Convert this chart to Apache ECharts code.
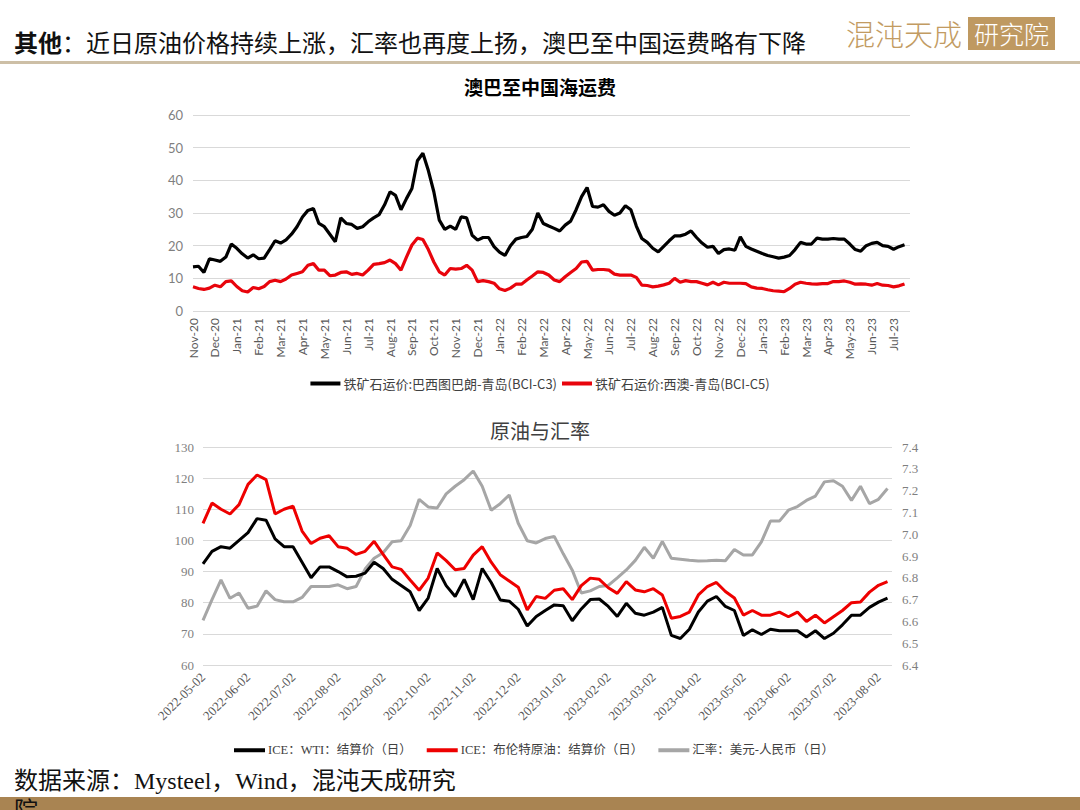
<!DOCTYPE html>
<html>
<head>
<meta charset="utf-8">
<script src="https://cdn.jsdelivr.net/npm/echarts@6/dist/echarts.min.js"></script>
<style>
  html, body { margin:0; padding:0; background:#fff; }
  #wrap { position:relative; width:1080px; height:810px; overflow:hidden; background:#fff; }
  #chart { position:absolute; left:0; top:0; width:1080px; height:810px; }
  #hdr { position:absolute; left:14px; top:29px; font-family:"Noto Sans CJK SC", sans-serif; font-size:24px; line-height:26px; color:#111; white-space:nowrap; z-index:3; }
  #hdr b { font-weight:700; }
  #hline { position:absolute; left:0; top:61px; width:1080px; height:3px; background:#cdbfa6; z-index:2; }
  #logo1 { position:absolute; left:846px; top:15px; font-family:"Noto Sans CJK SC", sans-serif; font-weight:300; font-size:29px; line-height:36px; color:#c29b62; letter-spacing:0px; z-index:3; }
  #logo2 { position:absolute; left:968px; top:17px; width:87px; height:33px; background:#bf9961; color:#fff; font-family:"Noto Sans CJK SC", sans-serif; font-weight:300; font-size:25px; line-height:33px; text-align:center; z-index:3; }
  #foot { position:absolute; left:14px; top:766px; width:460px; font-family:"Liberation Serif","Noto Sans CJK SC", serif; font-size:24px; line-height:30px; color:#111; z-index:3; }
  #bar { position:absolute; left:0; top:797px; width:1080px; height:13px; background:#a98452; z-index:2; }
</style>
</head>
<body>
<div id="wrap">
  <div id="chart"></div>
  <div id="hdr"><b>其他</b>：近日原油价格持续上涨，汇率也再度上扬，澳巴至中国运费略有下降</div>
  <div id="hline"></div>
  <div id="logo1">混沌天成</div>
  <div id="logo2">研究院</div>
  <div id="bar"></div>
  <div id="foot">数据来源：Mysteel，Wind，混沌天成研究院</div>
</div>
<script>
// ---------- Chart 1: 澳巴至中国海运费 (weekly readings, 4 per month from Nov-20) ----------
const freightMonths = ['Nov-20','Dec-20','Jan-21','Feb-21','Mar-21','Apr-21','May-21','Jun-21','Jul-21','Aug-21','Sep-21','Oct-21','Nov-21','Dec-21','Jan-22','Feb-22','Mar-22','Apr-22','May-22','Jun-22','Jul-22','Aug-22','Sep-22','Oct-22','Nov-22','Dec-22','Jan-23','Feb-23','Mar-23','Apr-23','May-23','Jun-23','Jul-23'];
const freightStep = 0.25; // months between readings
const freightNames = ['铁矿石运价:巴西图巴朗-青岛(BCI-C3)', '铁矿石运价:西澳-青岛(BCI-C5)'];
const bciC3 = [13.5,13.7,11.8,16,15.6,15.2,16.5,20.5,19.2,17.5,
16.2,17.2,16.0,16.2,18.8,21.5,20.8,21.8,23.5,25.8,
28.8,30.8,31.4,26.8,25.8,23.5,21.2,28.5,26.8,26.5,
25.3,25.8,27.3,28.5,29.5,32.5,36.5,35.4,31,34.4,
37.5,46,48.3,43,36.5,27.8,25,26,25,28.8,
28.5,23.2,21.7,22.5,22.5,19.7,18,17,20,22,
22.5,22.8,25,30,26.8,26,25.3,24.5,26.3,27.5,
31,35,37.8,32,31.8,32.5,30.5,29.3,30,32.2,
31,26,22.2,21,19.2,18.1,19.8,21.5,23,23,
23.5,24.5,22.5,20.8,19.5,19.8,17.6,18.8,19,18.6,
22.7,19.8,19,18.3,17.6,17,16.6,16.2,16.5,17,
18.8,21,20.5,20.5,22.3,22,22,22.2,22,22,
20.5,18.8,18.3,20,20.7,21,20,19.8,18.9,19.7,
20.3];
const bciC5 = [7.4,6.9,6.6,7.0,7.9,7.4,9.0,9.2,7.5,6.2,
5.8,7.2,6.8,7.5,9,9.4,9,9.8,11,11.5,
12,14,14.5,12.5,12.5,10.8,11,11.8,12,11.2,
11.5,11,12.5,14.3,14.5,14.8,15.6,14.5,12.5,16.5,
20.2,22.3,21.9,18.8,15,12,11,13,12.8,13,
14,12.5,9,9.3,9,8.5,6.8,6.3,7,8.2,
8.2,9.5,10.7,12,11.8,11,9.5,9,10.5,11.8,
13,15,15.2,12.5,12.7,12.7,12.5,11.3,11,11,
11,10.3,7.9,7.8,7.4,7.6,8,8.5,10,8.8,
9.3,9,9,8.5,8,8.8,8,8.8,8.5,8.5,
8.5,8.4,7.4,7,6.9,6.5,6.2,6.1,5.9,6.9,
8.2,8.8,8.5,8.3,8.2,8.4,8.4,9,9,9.2,
8.8,8.2,8.3,8.2,7.9,8.4,7.9,7.8,7.4,7.7,
8.3];

// ---------- Chart 2: 原油与汇率 (readings every 0.2 month from 2022-05-02) ----------
const oilMonths = ['2022-05-02','2022-06-02','2022-07-02','2022-08-02','2022-09-02','2022-10-02','2022-11-02','2022-12-02','2023-01-02','2023-02-02','2023-03-02','2023-04-02','2023-05-02','2023-06-02','2023-07-02','2023-08-02'];
const oilStep = 0.2;
const oilNames = ['ICE：WTI：结算价（日）', 'ICE：布伦特原油：结算价（日）', '汇率：美元-人民币（日）'];
const wti = [92.5,96.5,98,97.5,100,102.5,107,106.5,100.5,98,
98,93,88,91.5,91.5,90,88.3,88.5,89.5,93,
91,87.5,85.5,83.5,77.5,81.5,91,85.5,82,87.5,
81,91,86.5,80.9,80.5,77.9,72.5,75.6,77.5,79.3,
79,74.2,78,81,81.2,78.8,75.6,79.8,76.6,76,
77,78.5,69.5,68.5,71.5,77,80.5,82,78.8,77.5,
69.5,71.3,69.8,71.5,71,71,71,69,71,68.5,
70.2,72.9,76,76,78.5,80.2,81.5];
const brent = [105.5,112,110,108.5,111.5,118,121,119.5,108.5,110,
111,103,99,100.7,101.5,98,97.5,95.5,96.5,99.7,
95.5,91.5,90.7,87.3,84,87.9,96,93.5,90.6,91,
95.3,98,93,89,87,85,77.7,82,81.4,84,
84.5,81,85.5,87.9,87.5,84.8,83,86.8,84.1,83.5,
84.5,82.5,75,75.6,77,82.5,85.2,86.5,83.6,81.5,
76,77.5,76,76,77,75.5,77,74,76,73.5,
75.5,77.5,80,80.2,83.4,85.6,86.8];
const usdcny = [6.605,6.70,6.79,6.706,6.73,6.66,6.67,6.74,6.70,6.69,
6.69,6.71,6.76,6.76,6.76,6.768,6.75,6.76,6.84,6.89,
6.915,6.965,6.97,7.04,7.16,7.125,7.12,7.185,7.22,7.25,
7.29,7.22,7.11,7.14,7.18,7.05,6.97,6.96,6.98,6.99,
6.91,6.835,6.73,6.74,6.76,6.765,6.80,6.836,6.88,6.94,
6.89,6.967,6.89,6.885,6.88,6.877,6.878,6.88,6.878,6.93,
6.905,6.905,6.965,7.06,7.06,7.11,7.127,7.155,7.175,7.24,
7.245,7.22,7.155,7.22,7.14,7.16,7.21];

function pairs(arr, step) { return arr.map((v, i) => [i * step, v]); }

const chart = echarts.init(document.getElementById('chart'), null, { renderer: 'svg', width: 1080, height: 810 });
const sansLatin = 'Lato, "Noto Sans CJK SC", sans-serif';
const serifLatin = '"Liberation Serif", "Noto Sans CJK SC", serif';

chart.setOption({
  animation: false,
  backgroundColor: 'transparent',
  title: [
    { text: '澳巴至中国海运费', left: 'center', top: 72,
      textStyle: { fontFamily: '"Noto Sans CJK SC", sans-serif', fontSize: 19, fontWeight: 'bold', color: '#000' } },
    { text: '原油与汇率', left: 'center', top: 415,
      textStyle: { fontFamily: '"Noto Sans CJK SC", sans-serif', fontSize: 20, fontWeight: 'normal', color: '#404040' } }
  ],
  legend: [
    { data: freightNames, left: 'center', top: 372, icon: 'rect', itemWidth: 30, itemHeight: 4, itemGap: 5,
      textStyle: { fontFamily: '"Noto Sans CJK SC", sans-serif', fontSize: 13, color: '#404040', padding: [0, 0, 0, -2] } },
    { data: oilNames, left: 229, top: 739, icon: 'rect', itemWidth: 31, itemHeight: 4, itemGap: 15,
      textStyle: { fontFamily: serifLatin, fontSize: 12.5, color: '#404040', padding: [0, 0, 0, -2] } }
  ],
  grid: [
    { left: 193, right: 170, top: 115, bottom: 499, containLabel: false },
    { left: 203, right: 188, top: 447, bottom: 145, containLabel: false }
  ],
  xAxis: [
    { type: 'value', gridIndex: 0, min: 0, max: 32.75, interval: 1,
      axisLine: { show: false }, axisTick: { show: false }, splitLine: { show: false },
      axisLabel: { rotate: 90, margin: 7, fontFamily: sansLatin, fontSize: 12, color: '#595959',
        showMaxLabel: false,
        formatter: v => (Number.isInteger(v) && freightMonths[v]) ? freightMonths[v] : '' } },
    { type: 'value', gridIndex: 1, min: 0, max: 15.3, interval: 1,
      axisLine: { show: false }, axisTick: { show: false }, splitLine: { show: false },
      axisLabel: { rotate: 45, margin: 10, fontFamily: serifLatin, fontSize: 13, color: '#595959',
        showMaxLabel: false,
        formatter: v => (Number.isInteger(v) && oilMonths[v]) ? oilMonths[v] : '' } }
  ],
  yAxis: [
    { type: 'value', gridIndex: 0, min: 0, max: 60, interval: 10,
      axisLine: { show: false }, axisTick: { show: false },
      splitLine: { lineStyle: { color: '#d9d9d9', width: 1 } },
      axisLabel: { margin: 10, fontFamily: sansLatin, fontSize: 13, color: '#7f7f7f' } },
    { type: 'value', gridIndex: 1, min: 60, max: 130, interval: 10,
      axisLine: { show: false }, axisTick: { show: false },
      splitLine: { lineStyle: { color: '#d9d9d9', width: 1 } },
      axisLabel: { margin: 9, fontFamily: serifLatin, fontSize: 13, color: '#7f7f7f' } },
    { type: 'value', gridIndex: 1, position: 'right', min: 6.4, max: 7.4, interval: 0.1,
      axisLine: { show: false }, axisTick: { show: false }, splitLine: { show: false },
      axisLabel: { margin: 10, fontFamily: serifLatin, fontSize: 13, color: '#7f7f7f',
        formatter: v => v.toFixed(1) } }
  ],
  series: [
    { name: freightNames[0], type: 'line', xAxisIndex: 0, yAxisIndex: 0, showSymbol: false,
      data: pairs(bciC3, freightStep), color: '#000000', lineStyle: { color: '#000000', width: 3.2 } },
    { name: freightNames[1], type: 'line', xAxisIndex: 0, yAxisIndex: 0, showSymbol: false,
      data: pairs(bciC5, freightStep), color: '#e8040c', lineStyle: { color: '#e8040c', width: 3.2 } },
    { name: oilNames[0], type: 'line', xAxisIndex: 1, yAxisIndex: 1, showSymbol: false,
      data: pairs(wti, oilStep), color: '#000000', lineStyle: { color: '#000000', width: 3 } },
    { name: oilNames[1], type: 'line', xAxisIndex: 1, yAxisIndex: 1, showSymbol: false,
      data: pairs(brent, oilStep), color: '#ee0000', lineStyle: { color: '#ee0000', width: 3 } },
    { name: oilNames[2], type: 'line', xAxisIndex: 1, yAxisIndex: 2, showSymbol: false,
      data: pairs(usdcny, oilStep), color: '#a6a6a6', lineStyle: { color: '#a6a6a6', width: 3 }, z: 1 }
  ]
});
</script>
</body>
</html>
